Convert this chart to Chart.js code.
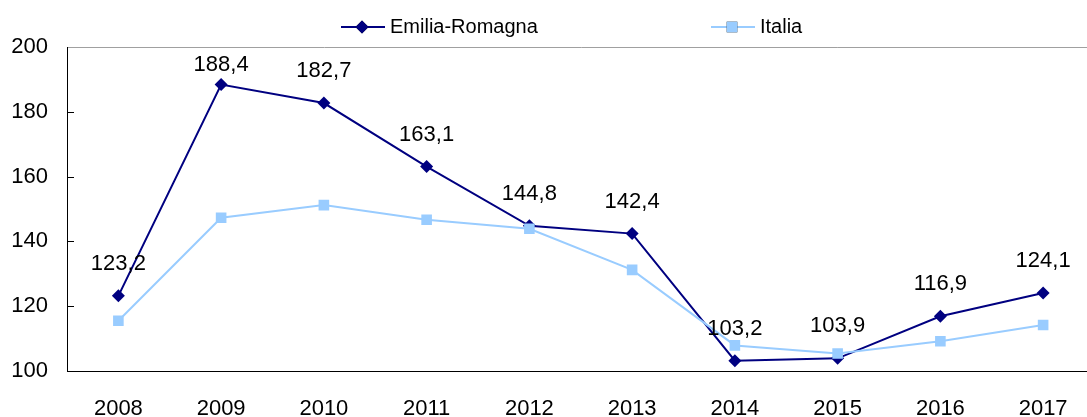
<!DOCTYPE html>
<html>
<head>
<meta charset="utf-8">
<script src="https://cdn.jsdelivr.net/npm/chart.js@4/dist/chart.umd.min.js"></script>
<style>
    html, body { margin: 0; padding: 0; background: #ffffff; overflow: hidden; }
    #wrap { position: relative; width: 1102px; height: 417px; }
</style>
</head>
<body>
<div id="wrap"><canvas id="lineChart"></canvas></div>
<script>
// Data
const years = ['2008', '2009', '2010', '2011', '2012', '2013', '2014', '2015', '2016', '2017'];
const emiliaRomagna = [123.2, 188.4, 182.7, 163.1, 144.8, 142.4, 103.2, 103.9, 116.9, 124.1];
const italia = [115.5, 147.3, 151.2, 146.7, 143.9, 131.2, 107.9, 105.4, 109.2, 114.2];
const seriesNames = ['Emilia-Romagna', 'Italia'];
const yTicks = [100, 120, 140, 160, 180, 200];

const NAVY = '#000080';
const LIGHT = '#99ccff';
const FONT = "'Liberation Sans', Arial, sans-serif";

function formatValue(v) {
    return v.toFixed(1).replace('.', ',');
}

// Draws legend, value labels and the small inward ticks on the y axis
const extrasPlugin = {
    id: 'extras',
    afterDraw(chart) {
        const ctx = chart.ctx;
        const yScale = chart.scales.y;
        const area = chart.chartArea;

        ctx.save();

        // inward tick marks
        ctx.strokeStyle = '#000000';
        ctx.lineWidth = 1;
        yTicks.forEach(t => {
            if (t === 100 || t === 200) return;
            const y = Math.round(yScale.getPixelForValue(t)) + 0.5;
            ctx.beginPath();
            ctx.moveTo(area.left, y);
            ctx.lineTo(area.left + 7, y);
            ctx.stroke();
        });

        // value labels above Emilia-Romagna points, kept inside the plot area
        ctx.fillStyle = '#000000';
        ctx.font = '22px ' + FONT;
        ctx.textAlign = 'center';
        ctx.textBaseline = 'middle';
        const meta = chart.getDatasetMeta(0);
        meta.data.forEach((pt, i) => {
            const y = Math.max(pt.y - 32, area.top + 18);
            ctx.fillText(formatValue(emiliaRomagna[i]), pt.x, y);
        });

        // legend: line with marker, then name
        const legendY = 27;
        const items = [
            { x: 341, ds: chart.data.datasets[0] },
            { x: 711, ds: chart.data.datasets[1] }
        ];
        items.forEach(item => {
            const ds = item.ds;
            ctx.strokeStyle = ds.borderColor;
            ctx.lineWidth = ds.borderWidth;
            ctx.beginPath();
            ctx.moveTo(item.x, legendY);
            ctx.lineTo(item.x + 44, legendY);
            ctx.stroke();
            Chart.helpers.drawPoint(ctx, {
                pointStyle: ds.pointStyle,
                radius: ds.pointRadius,
                borderWidth: 0
            }, item.x + 21, legendY);
            ctx.fillStyle = ds.pointBackgroundColor;
            ctx.fill();
            ctx.fillStyle = '#000000';
            ctx.font = '20px ' + FONT;
            ctx.textAlign = 'left';
            ctx.fillText(ds.label, item.x + 49, legendY);
        });

        ctx.restore();
    }
};

const ctx = document.getElementById('lineChart').getContext('2d');
new Chart(ctx, {
    type: 'line',
    data: {
        labels: years,
        datasets: [{
            label: seriesNames[0],
            data: emiliaRomagna,
            order: 1,
            borderColor: NAVY,
            backgroundColor: NAVY,
            pointBackgroundColor: NAVY,
            pointBorderColor: NAVY,
            borderWidth: 2,
            pointStyle: 'rectRot',
            pointRadius: 6.5,
            pointBorderWidth: 0,
            tension: 0
        }, {
            label: seriesNames[1],
            data: italia,
            order: 0,
            borderColor: LIGHT,
            backgroundColor: LIGHT,
            pointBackgroundColor: LIGHT,
            pointBorderColor: LIGHT,
            borderWidth: 2,
            pointStyle: 'rect',
            pointRadius: 7.5,
            pointBorderWidth: 0,
            tension: 0
        }]
    },
    options: {
        responsive: true,
        maintainAspectRatio: false,
        animation: false,
        layout: {
            padding: { top: 47, left: 0, right: 0, bottom: 0 }
        },
        plugins: {
            legend: { display: false },
            tooltip: { enabled: false }
        },
        scales: {
            x: {
                offset: true,
                grid: { display: false },
                border: { display: true, color: '#000000', width: 1 },
                ticks: {
                    color: '#000000',
                    font: { family: FONT, size: 22 },
                    padding: 17,
                    maxRotation: 0,
                    autoSkip: false
                },
                afterFit(scale) { scale.height = 46; }
            },
            y: {
                min: 100,
                max: 200,
                afterBuildTicks(scale) {
                    scale.ticks = yTicks.map(v => ({ value: v }));
                },
                grid: {
                    drawTicks: false,
                    color: c => (c.tick && c.tick.value === 200) ? '#a0a0a0' : 'rgba(0,0,0,0)'
                },
                border: { display: true, color: '#000000', width: 1 },
                ticks: {
                    color: '#000000',
                    font: { family: FONT, size: 22 },
                    padding: 19
                },
                afterFit(scale) { scale.width = 67; }
            }
        }
    },
    plugins: [extrasPlugin]
});
</script>
</body>
</html>
